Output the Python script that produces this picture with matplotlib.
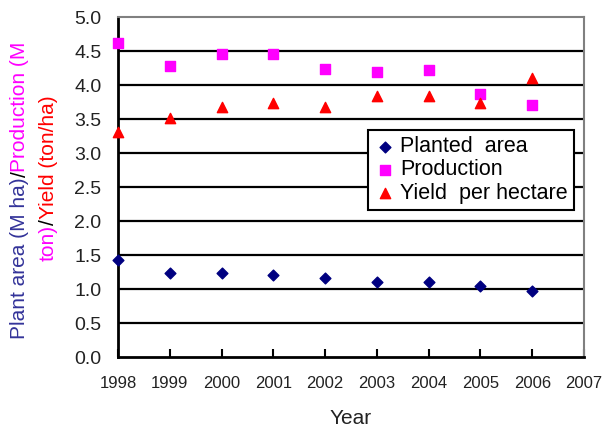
import matplotlib
matplotlib.use("Agg")
import matplotlib.pyplot as plt

plt.rcParams['font.family'] = ['Liberation Sans', 'DejaVu Sans']

years = [1998, 1999, 2000, 2001, 2002, 2003, 2004, 2005, 2006]
planted_area = [1.42, 1.23, 1.23, 1.20, 1.16, 1.11, 1.11, 1.04, 0.97]
production = [4.62, 4.28, 4.46, 4.46, 4.24, 4.19, 4.22, 3.87, 3.71]
yield_per_ha = [3.31, 3.52, 3.67, 3.73, 3.67, 3.84, 3.84, 3.74, 4.10]
xtick_labels = [str(y) for y in range(1998, 2008)]
ytick_vals = [0.0, 0.5, 1.0, 1.5, 2.0, 2.5, 3.0, 3.5, 4.0, 4.5, 5.0]

fig = plt.figure(figsize=(6.04, 4.28), dpi=100)
ax = fig.add_axes([118/604, 1-357/428, 466/604, 340/428])

for v in ytick_vals[1:-1]:
    ax.axhline(v, color='black', lw=1.6, zorder=1)

ax.scatter(years, planted_area, marker='D', s=30, color='#000080', zorder=3, label='Planted  area', clip_on=False)
ax.scatter(years, production, marker='s', s=45, color='#FF00FF', zorder=3, label='Production', clip_on=False)
ax.scatter(years, yield_per_ha, marker='^', s=55, color='#FF0000', zorder=3, label='Yield  per hectare', clip_on=False)

ax.set_xlim(1998, 2007)
ax.set_ylim(0, 5)
ax.set_xticks(range(1998, 2008))
ax.set_xticklabels(xtick_labels, fontsize=12)
ax.set_yticks(ytick_vals)
ax.set_yticklabels([f"{v:.1f}" for v in ytick_vals], fontsize=14)
ax.tick_params(axis='x', direction='in', length=6, width=1.5, pad=14, colors='black', labelcolor='#222222')
ax.tick_params(axis='y', length=0, pad=12, labelcolor='#222222')
for s in ['left', 'bottom']:
    ax.spines[s].set_color('black')
    ax.spines[s].set_linewidth(2)
for s in ['top', 'right']:
    ax.spines[s].set_color('#808080')
    ax.spines[s].set_linewidth(1.5)

ax.set_xlabel('Year', fontsize=15, color='#222222', labelpad=13)

leg = ax.legend(loc='upper left', bbox_to_anchor=(0.536, 0.668), fontsize=15.5,
                frameon=True, fancybox=False, edgecolor='black', framealpha=1,
                handletextpad=0.2, labelspacing=0.1, borderpad=0.3,
                handlelength=1.0, borderaxespad=0)
leg.get_frame().set_linewidth(1.5)

# multicolour rotated y-label
fig.canvas.draw()
renderer = fig.canvas.get_renderer()

def draw_line(x, pieces, ycenter):
    texts = []
    total = 0
    for s, c in pieces:
        t = fig.text(0, 0, s, rotation=90, color=c, fontsize=15, ha='center', va='bottom',
                     transform=None)
        texts.append(t)
        h = t.get_window_extent(renderer).height
        total += h
    y = ycenter - total / 2
    for t in texts:
        h = t.get_window_extent(renderer).height
        t.set_position((x, y))
        y += h

H = 428
draw_line(20, [('Plant area (M ha)', '#333399'), ('/', 'black'), ('Production (M', '#FF00FF')], H - 190)
draw_line(48, [('ton)', '#FF00FF'), ('/', 'black'), ('Yield (ton/ha)', '#FF0000')], H - 178)

fig.savefig('out.png', dpi=100)
